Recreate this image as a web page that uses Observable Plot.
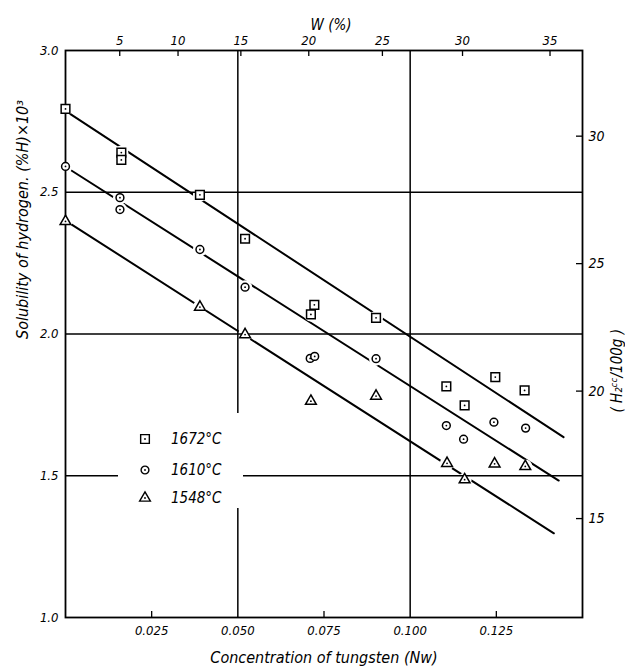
<!DOCTYPE html>
<html>
<head>
<meta charset="utf-8">
<script src="https://cdn.jsdelivr.net/npm/d3@7"></script>
<script src="https://cdn.jsdelivr.net/npm/@observablehq/plot@0.6"></script>
<style>
  html, body { margin: 0; padding: 0; background: #fff; }
  #wrap { position: relative; width: 625px; height: 672px; }
  #legend { position: absolute; left: 118px; top: 413px; width: 125px; height: 95px; background: #fff; }
</style>
</head>
<body>
<div id="wrap"></div>
<script>
// ---- data ----
const nw1672 = [0, 0.0162, 0.0162, 0.0390, 0.0521, 0.0722, 0.0712, 0.0901, 0.1105, 0.1247, 0.1158, 0.1332];
const h1672  = [2.794, 2.640, 2.614, 2.491, 2.336, 2.103, 2.069, 2.057, 1.815, 1.848, 1.748, 1.801];
const nw1610 = [0, 0.0158, 0.0158, 0.0390, 0.0521, 0.0710, 0.0723, 0.0901, 0.1105, 0.1155, 0.1243, 0.1335];
const h1610  = [2.591, 2.481, 2.439, 2.298, 2.165, 1.914, 1.921, 1.913, 1.677, 1.629, 1.689, 1.668];
const nw1548 = [0, 0.0390, 0.0521, 0.0712, 0.0901, 0.1107, 0.1158, 0.1245, 0.1334];
const h1548  = [2.397, 2.095, 1.998, 1.763, 1.781, 1.544, 1.486, 1.542, 1.533];

// fitted straight lines (end points)
const fit1672Nw = [0, 0.1445], fit1672H = [2.787, 1.636];
const fit1610Nw = [0, 0.1431], fit1610H = [2.590, 1.483];
const fit1548Nw = [0, 0.1417], fit1548H = [2.400, 1.297];

const seriesNames = ["1672°C", "1610°C", "1548°C"];
const seriesSymbols = ["square", "circle", "triangle"];
const seriesR = [4.9, 3.9, 4.0];

// axes
const xTicks = [0.025, 0.050, 0.075, 0.100, 0.125];
const xGrid = [0.050, 0.100];
const yTicks = [1.0, 1.5, 2.0, 2.5, 3.0];
const yGrid = [1.5, 2.0, 2.5];
const xInnerTicks = [0.025, 0.075, 0.125];
const wTicks = [5, 10, 15, 20, 25, 30, 35];     // W (wt %)
const ccTicks = [15, 20, 25, 30];               // H2 cc/100g

const MW = 183.84, MFe = 55.845;
const nwFromW = w => (w / MW) / (w / MW + (100 - w) / MFe);
const wFromNw = n => 100 * n * MW / (n * MW + (1 - n) * MFe);
const CC = 11.12; // cc/100g per (%H)x10^3

// build tables
const pts = [];
[[nw1672, h1672], [nw1610, h1610], [nw1548, h1548]].forEach(([xs, ys], k) =>
  xs.forEach((x, i) => pts.push({series: seriesNames[k], nw: x, h: ys[i]})));
const fits = [];
[[fit1672Nw, fit1672H], [fit1610Nw, fit1610H], [fit1548Nw, fit1548H]].forEach(([xs, ys], k) =>
  xs.forEach((x, i) => fits.push({series: seriesNames[k], nw: x, h: ys[i]})));

const FONT = '"Liberation Sans Narrow", "DejaVu Sans Condensed", "Liberation Sans", sans-serif';
const W = 625, H = 672, mL = 65, mR = 43, mT = 50, mB = 55;
const fh = H - mT - mB, fw = W - mL - mR;

const symbolMarks = seriesNames.map((name, k) =>
  Plot.dot(pts.filter(d => d.series === name), {x: "nw", y: "h", symbol: seriesSymbols[k], r: seriesR[k], fill: "white", stroke: "black", strokeWidth: 1.5}));

const chart = Plot.plot({
  width: W, height: H,
  marginLeft: mL, marginRight: mR, marginTop: mT, marginBottom: mB,
  x: {domain: [0, 0.15]},
  y: {domain: [1, 3]},
  style: {fontFamily: FONT, fontStyle: "italic", fontSize: "13px", background: "white", color: "black"},
  marks: [
    Plot.line(fits, {x: "nw", y: "h", z: "series", stroke: "black", strokeWidth: 2}),
    Plot.dot(pts, {x: "nw", y: "h", r: 7, fill: "white", stroke: "none"}),
    Plot.ruleY(yGrid, {strokeWidth: 1.5}),
    Plot.ruleX(xGrid, {strokeWidth: 1.5}),
    Plot.frame({strokeWidth: 1.8}),
    Plot.ruleX(xInnerTicks, {insetTop: fh - 6, strokeWidth: 1.3}),
    Plot.ruleX(wTicks.map(nwFromW), {insetBottom: fh - 6, strokeWidth: 1.3}),
    Plot.ruleY(ccTicks.map(c => c / CC), {insetLeft: fw - 6, strokeWidth: 1.3}),
    ...symbolMarks,
    Plot.dot(pts, {x: "nw", y: "h", r: 0.9, fill: "black"}),
    Plot.axisX({ticks: xTicks, tickFormat: d => d.toFixed(3), tickSize: 0, tickPadding: 8, fontSize: 13, label: null}),
    Plot.axisX({anchor: "top", ticks: wTicks.map(nwFromW), tickFormat: d => Math.round(wFromNw(d)), tickSize: 0, tickPadding: 6, fontSize: 13, label: null}),
    Plot.axisY({ticks: yTicks, tickFormat: d => d.toFixed(1), tickSize: 0, tickPadding: 7, fontSize: 13, label: null}),
    Plot.axisY({anchor: "right", ticks: ccTicks.map(c => c / CC), tickFormat: d => Math.round(d * CC), tickSize: 0, tickPadding: 6, fontSize: 14, label: null}),
    Plot.text(["Concentration of tungsten (Nw)"], {frameAnchor: "bottom", dy: 45, fontSize: 16}),
    Plot.text(["W (%)"], {frameAnchor: "top", dx: 7, dy: -31, fontSize: 15}),
    Plot.text(["Solubility of hydrogen. (%H)×10³"], {frameAnchor: "left", dx: -43, dy: 5, rotate: -90, fontSize: 16}),
    Plot.text(["( H₂ᶜᶜ/100g )"], {frameAnchor: "right", dx: 35, dy: -5, rotate: -90, fontSize: 15})
  ]
});

const wrap = document.getElementById("wrap");
wrap.appendChild(chart);

// legend (overlay box, masks grid lines like the original)
const leg = document.createElement("div");
leg.id = "legend";
const ns = "http://www.w3.org/2000/svg";
const ls = document.createElementNS(ns, "svg");
ls.setAttribute("width", 125); ls.setAttribute("height", 95);
const rowsY = [26, 57, 85];
const d3syms = [d3.symbolSquare, d3.symbolCircle, d3.symbolTriangle];
seriesNames.forEach((name, i) => {
  const g = document.createElementNS(ns, "g");
  g.setAttribute("transform", `translate(27,${rowsY[i]})`);
  const p = document.createElementNS(ns, "path");
  p.setAttribute("d", d3.symbol(d3syms[i], Math.PI * seriesR[i] * seriesR[i])());
  p.setAttribute("fill", "white"); p.setAttribute("stroke", "black"); p.setAttribute("stroke-width", 1.4);
  g.appendChild(p);
  const c = document.createElementNS(ns, "circle");
  c.setAttribute("r", 0.9); c.setAttribute("fill", "black");
  g.appendChild(c);
  ls.appendChild(g);
  const t = document.createElementNS(ns, "text");
  t.setAttribute("x", 53); t.setAttribute("y", rowsY[i]); t.setAttribute("dy", "0.35em");
  t.setAttribute("font-family", FONT); t.setAttribute("font-style", "italic"); t.setAttribute("font-size", 15);
  t.textContent = name;
  ls.appendChild(t);
});
leg.appendChild(ls);
wrap.appendChild(leg);
</script>
</body>
</html>
